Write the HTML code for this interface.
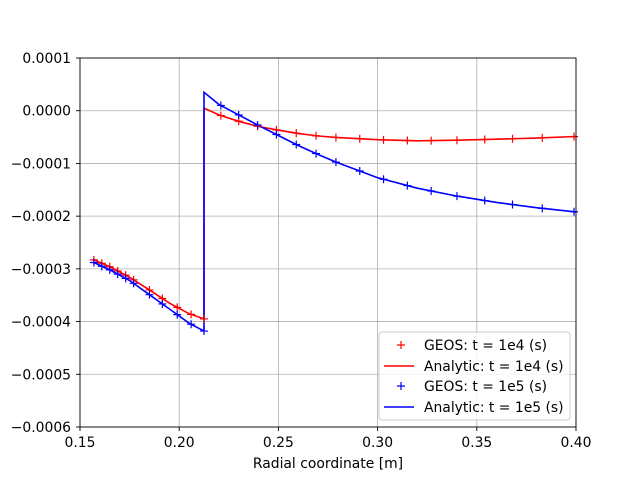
<!DOCTYPE html>
<html><head><meta charset="utf-8"><style>
html,body{margin:0;padding:0;background:#fff;width:640px;height:480px;overflow:hidden}
text{font-family:"DejaVu Sans","Liberation Sans",sans-serif;font-size:13.9px;fill:#000}
</style></head><body>
<svg id="s" width="640" height="480" xmlns="http://www.w3.org/2000/svg">
<rect width="640" height="480" fill="#fff"/>
<g id="grid" stroke="#b0b0b0" stroke-width="0.8"></g>
<g id="data"></g>
<rect x="80" y="58" width="496" height="369" fill="none" stroke="#000" stroke-width="0.9"/>
<g id="ticks" stroke="#000" stroke-width="0.9"></g>
<g id="labels"></g>
<text x="328" y="468" text-anchor="middle">Radial coordinate [m]</text>
<g>
<rect x="379" y="332" width="191" height="88" rx="3" fill="#fff" fill-opacity="0.8" stroke="#ccc"/>
<path d="M397 345h8M401 341v8" stroke="red" stroke-width="1.2"/>
<text x="424" y="350">GEOS: t = 1e4 (s)</text>
<path d="M384 366h30" stroke="red" stroke-width="1.6"/>
<text x="424" y="371">Analytic: t = 1e4 (s)</text>
<path d="M397 386h8M401 382v8" stroke="blue" stroke-width="1.2"/>
<text x="424" y="391">GEOS: t = 1e5 (s)</text>
<path d="M384 407h30" stroke="blue" stroke-width="1.6"/>
<text x="424" y="412">Analytic: t = 1e5 (s)</text>
</g>
</svg>
<script>
var NS="http://www.w3.org/2000/svg";
function X(v){return 80+(v-0.15)/0.25*496;}
function Y(v){return 58+(0.0001-v)/0.0007*369;}
function el(p,t,a){var e=document.createElementNS(NS,t);for(var k in a)e.setAttribute(k,a[k]);p.appendChild(e);return e;}
var g=document.getElementById('grid'),tk=document.getElementById('ticks'),lb=document.getElementById('labels'),d=document.getElementById('data');
var xs=[0.15,0.20,0.25,0.30,0.35,0.40];
xs.forEach(function(v){var x=X(v);el(g,'line',{x1:x,x2:x,y1:58,y2:427});el(tk,'line',{x1:x,x2:x,y1:427,y2:431});var t=el(lb,'text',{x:x,y:447,'text-anchor':'middle'});t.textContent=v.toFixed(2);});
var ys=[0.0001,0,-0.0001,-0.0002,-0.0003,-0.0004,-0.0005,-0.0006];
ys.forEach(function(v){var y=Y(v);el(g,'line',{x1:80,x2:576,y1:y,y2:y});el(tk,'line',{x1:76,x2:80,y1:y,y2:y});var t=el(lb,'text',{x:71,y:y+5,'text-anchor':'end'});t.textContent=(v<0?'\u2212':'')+Math.abs(v).toFixed(4);});
function interp(pts,x){for(var i=0;i<pts.length-1;i++){if(x<=pts[i+1][0]){var a=pts[i],b=pts[i+1];return a[1]+(b[1]-a[1])*(x-a[0])/(b[0]-a[0]);}}return pts[pts.length-1][1];}
var redL=[[0.157,-0.000283],[0.165,-0.000296],[0.175,-0.000316],[0.185,-0.000340],[0.195,-0.000365],[0.205,-0.000385],[0.2125,-0.000395]];
var bluL=[[0.157,-0.000288],[0.165,-0.000302],[0.175,-0.000322],[0.185,-0.000349],[0.195,-0.000376],[0.205,-0.000403],[0.2125,-0.000418]];
var redR=[[0.2125,0.000005],[0.22,-0.000008],[0.23,-0.000020],[0.24,-0.000030],[0.25,-0.000037],[0.26,-0.000043],[0.27,-0.000048],[0.28,-0.000051],[0.30,-0.000055],[0.32,-0.000057],[0.34,-0.000056],[0.36,-0.000054],[0.38,-0.000052],[0.40,-0.000049]];
var bluR=[[0.2125,0.000035],[0.22,0.000012],[0.23,-0.000008],[0.24,-0.000028],[0.25,-0.000047],[0.26,-0.000066],[0.27,-0.000083],[0.28,-0.000099],[0.29,-0.000113],[0.30,-0.000127],[0.32,-0.000147],[0.34,-0.000162],[0.36,-0.000174],[0.38,-0.000184],[0.40,-0.000192]];
function path(pts,c){var s=pts.map(function(p,i){return (i?'L':'M')+X(p[0]).toFixed(1)+' '+Y(p[1]).toFixed(1);}).join(' ');el(d,'path',{d:s,fill:'none',stroke:c,'stroke-width':1.6});}
path(redL.concat(redR),'red');
path(bluL.concat(bluR),'blue');
var mL=[0.157,0.161,0.165,0.169,0.173,0.177,0.185,0.1915,0.199,0.206,0.2125];
var mR=[0.221,0.230,0.2395,0.249,0.259,0.269,0.279,0.291,0.303,0.315,0.327,0.340,0.354,0.368,0.383,0.399];
function marks(pL,pR,c){mL.forEach(function(x){m(x,interp(pL,x),c);});mR.forEach(function(x){m(x,interp(pR,x),c);});}
function m(x,v,c){var px=X(x),py=Y(v);el(d,'path',{d:'M'+(px-4)+' '+py+'h8M'+px+' '+(py-4)+'v8',stroke:c,'stroke-width':1.2});}
marks(redL,redR,'red');marks(bluL,bluR,'blue');
</script>
</body></html>
